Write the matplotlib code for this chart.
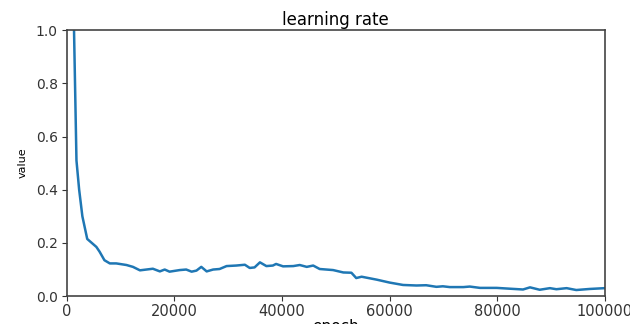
import matplotlib
matplotlib.use("Agg")
import matplotlib.pyplot as plt

# learning rate curve
epoch = [1300, 1800, 2300, 2900, 3800, 5500, 6100, 7000, 8000, 9200, 11100,
         12300, 13600, 14800, 16000, 17300, 18200, 19100, 21000, 22200, 23200,
         24100, 25000, 26000, 27200, 28400, 29700, 31500, 33100, 34000, 34900,
         35900, 37100, 38300, 38900, 40200, 42100, 43300, 44600, 45800, 47000,
         49500, 51400, 52900, 53800, 54800, 57600, 60000, 62500, 65000, 66800,
         68700, 69900, 71200, 73700, 74900, 76800, 79900, 82300, 84800, 86100,
         87900, 89800, 91000, 92900, 94700, 97200, 100000]
value = [1.05, 0.51, 0.40, 0.30, 0.215, 0.185, 0.167, 0.135, 0.123, 0.123, 0.117,
         0.11, 0.097, 0.10, 0.103, 0.093, 0.10, 0.092, 0.098, 0.10, 0.092,
         0.096, 0.11, 0.093, 0.10, 0.102, 0.113, 0.115, 0.118, 0.106, 0.108,
         0.127, 0.113, 0.115, 0.121, 0.112, 0.113, 0.117, 0.11, 0.115, 0.102,
         0.098, 0.089, 0.088, 0.068, 0.073, 0.062, 0.051, 0.042, 0.04, 0.041,
         0.035, 0.037, 0.034, 0.034, 0.036, 0.031, 0.031, 0.028, 0.025, 0.033,
         0.024, 0.03, 0.026, 0.03, 0.023, 0.027, 0.03]

fig = plt.figure(figsize=(6.3, 3.24), dpi=100)
ax = fig.add_axes([0.106, 0.086, 0.854, 0.821])
ax.plot(epoch, value, color="#1f77b4", lw=1.8)

ax.set_xlim(0, 100000)
ax.set_ylim(0, 1.0)
ax.set_xticks([0, 20000, 40000, 60000, 80000, 100000])
ax.set_yticks([0.0, 0.2, 0.4, 0.6, 0.8, 1.0])
ax.tick_params(axis="x", labelsize=10.5, colors="#333333", length=3.5, pad=2.5)
ax.tick_params(axis="y", labelsize=10, colors="#333333", length=3.5, pad=3)
for s in ax.spines.values():
    s.set_color("#444444")
    s.set_linewidth(1.2)

ax.set_title("learning rate", fontsize=12, pad=4)
ax.set_xlabel("epoch", fontsize=11, labelpad=0)
ax.set_ylabel("value", fontsize=8, labelpad=6)

fig.savefig("out.png", dpi=100)
